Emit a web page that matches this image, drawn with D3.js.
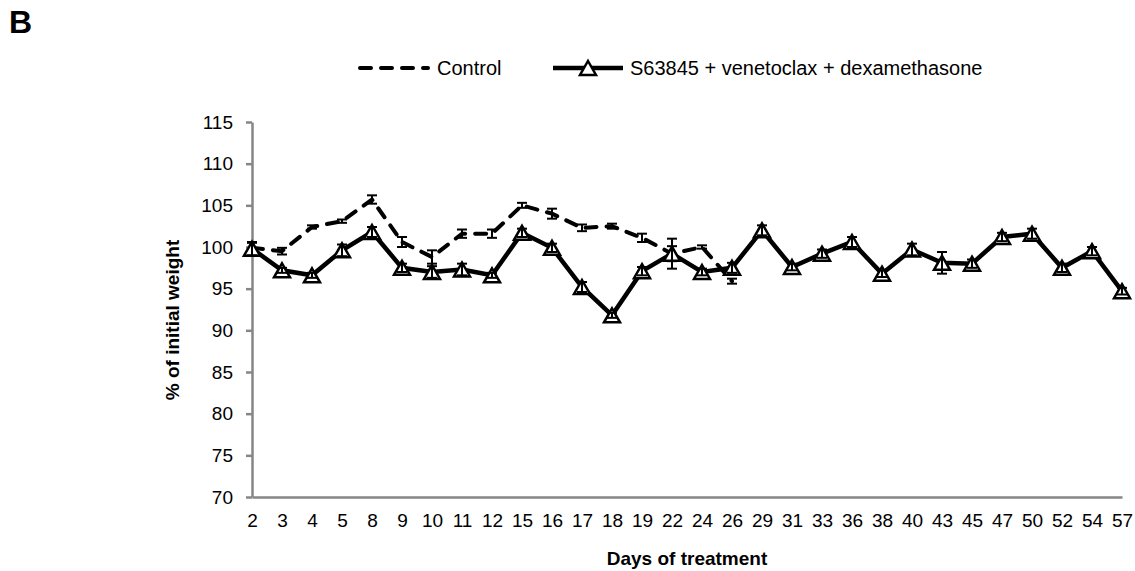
<!DOCTYPE html>
<html>
<head>
<meta charset="utf-8">
<script src="https://cdn.jsdelivr.net/npm/d3@7"></script>
<style>
  html, body { margin: 0; padding: 0; background: #fff; }
  svg { display: block; font-family: Arial, "Liberation Sans", sans-serif; }
</style>
</head>
<body>
<svg id="chart" width="1135" height="571"></svg>
<script>
// Days of treatment (category axis)
const days = ["2","3","4","5","8","9","10","11","12","15","16","17","18","19","22","24","26",
              "29","31","33","36","38","40","43","45","47","50","52","54","57"];

// Control group: mean % of initial weight and error (days 2–26)
const controlDays = days.slice(0, 17);
const controlMean = [99.9, 99.5, 102.4, 103.1, 105.7, 100.6, 98.8, 101.6, 101.6, 105.0,
                     104.0, 102.3, 102.5, 101.1, 99.2, 100.0, 95.9];
const controlErr  = [0.6, 0.4, 0.2, 0.2, 0.5, 0.6, 0.8, 0.5, 0.5, 0.3,
                     0.6, 0.4, 0.3, 0.5, 1.8, 0.2, 0.3];

// S63845 + venetoclax + dexamethasone group
const treatMean = [99.8, 97.2, 96.6, 99.6, 101.8, 97.5, 97.0, 97.3, 96.6, 101.7,
                   99.9, 95.2, 91.8, 97.1, 99.2, 97.0, 97.5, 102.0, 97.6, 99.2,
                   100.6, 96.8, 99.7, 98.1, 98.0, 101.2, 101.6, 97.5, 99.5, 94.7];
const treatErr  = [0.8, 0.3, 0.3, 0.7, 0.6, 0.5, 0.7, 0.7, 0.3, 0.5,
                   0.5, 0.6, 0.3, 0.5, 0.9, 0.4, 0.6, 0.6, 0.4, 0.5,
                   0.6, 0.4, 0.7, 1.3, 0.5, 0.5, 0.6, 0.5, 0.5, 0.4];

const yTicks = [70, 75, 80, 85, 90, 95, 100, 105, 110, 115];
const seriesNames = ["Control", "S63845 + venetoclax + dexamethasone"];

const svg = d3.select("#chart");
const axisGray = "#868686";

const x = d3.scalePoint().domain(days).range([252, 1122]);
const y = d3.scaleLinear().domain([70, 115]).range([497, 122]);

const control = controlDays.map((d, i) => ({ day: d, v: controlMean[i], e: controlErr[i] }));
const treat = days.map((d, i) => ({ day: d, v: treatMean[i], e: treatErr[i] }));

// Panel letter
svg.append("text").attr("x", 9).attr("y", 33)
  .attr("font-size", 32).attr("font-weight", "bold").text("B");

// Y axis
const yAxis = svg.append("g").attr("transform", `translate(${x.range()[0]},0)`)
  .call(d3.axisLeft(y).tickValues(yTicks).tickSize(6).tickSizeOuter(0).tickPadding(13));
yAxis.selectAll("path, line").attr("stroke", axisGray).attr("stroke-width", 2.5);
yAxis.selectAll("text").attr("font-size", 19).attr("fill", "#000")
  .attr("font-family", "Arial, 'Liberation Sans', sans-serif");

// X axis
const xAxis = svg.append("g").attr("transform", `translate(0,${y(70)})`)
  .call(d3.axisBottom(x).tickSize(0).tickSizeOuter(0).tickPadding(17));
xAxis.select("path").attr("stroke", axisGray).attr("stroke-width", 2.5);
xAxis.selectAll("text").attr("font-size", 19).attr("fill", "#000")
  .attr("font-family", "Arial, 'Liberation Sans', sans-serif");

// Axis titles
svg.append("text")
  .attr("transform", "translate(179,320) rotate(-90)")
  .attr("text-anchor", "middle").attr("font-size", 19).attr("font-weight", "bold")
  .text("% of initial weight");
svg.append("text")
  .attr("x", (x.range()[0] + x.range()[1]) / 2).attr("y", 565)
  .attr("text-anchor", "middle").attr("font-size", 19).attr("font-weight", "bold")
  .text("Days of treatment");

const line = d3.line().x(d => x(d.day)).y(d => y(d.v));
const triangle = "M0,-7L8,7L-8,7Z";

function errorBars(g, data) {
  const eb = g.selectAll("g.eb").data(data).join("g").attr("class", "eb")
    .attr("stroke", "#000").attr("stroke-width", 2);
  eb.append("line")
    .attr("x1", d => x(d.day)).attr("x2", d => x(d.day))
    .attr("y1", d => y(d.v - d.e)).attr("y2", d => y(d.v + d.e));
  eb.append("line")
    .attr("x1", d => x(d.day) - 5).attr("x2", d => x(d.day) + 5)
    .attr("y1", d => y(d.v + d.e)).attr("y2", d => y(d.v + d.e));
  eb.append("line")
    .attr("x1", d => x(d.day) - 5).attr("x2", d => x(d.day) + 5)
    .attr("y1", d => y(d.v - d.e)).attr("y2", d => y(d.v - d.e));
}

// Control series (dashed)
const gc = svg.append("g");
gc.append("path").datum(control).attr("d", line)
  .attr("fill", "none").attr("stroke", "#000").attr("stroke-width", 4)
  .attr("stroke-dasharray", "11,10").attr("stroke-linecap", "round");
errorBars(gc, control);

// Treatment series (solid with open triangles)
const gt = svg.append("g");
gt.append("path").datum(treat).attr("d", line)
  .attr("fill", "none").attr("stroke", "#000").attr("stroke-width", 4.5)
  .attr("stroke-linejoin", "miter");
gt.selectAll("path.mk").data(treat).join("path").attr("class", "mk")
  .attr("d", triangle)
  .attr("transform", d => `translate(${x(d.day)},${y(d.v)})`)
  .attr("fill", "#fff").attr("stroke", "#000").attr("stroke-width", 2.5);
errorBars(gt, treat);

// Legend
const lg = svg.append("g");
lg.append("line").attr("x1", 360).attr("x2", 428).attr("y1", 68).attr("y2", 68)
  .attr("stroke", "#000").attr("stroke-width", 4)
  .attr("stroke-dasharray", "11,10").attr("stroke-linecap", "round");
lg.append("text").attr("x", 437).attr("y", 75).attr("font-size", 20).text(seriesNames[0]);
lg.append("line").attr("x1", 553).attr("x2", 623).attr("y1", 68).attr("y2", 68)
  .attr("stroke", "#000").attr("stroke-width", 4.5);
lg.append("path").attr("d", triangle).attr("transform", "translate(588,68)")
  .attr("fill", "#fff").attr("stroke", "#000").attr("stroke-width", 2.5);
lg.append("text").attr("x", 630).attr("y", 75).attr("font-size", 20).text(seriesNames[1]);
</script>
</body>
</html>
